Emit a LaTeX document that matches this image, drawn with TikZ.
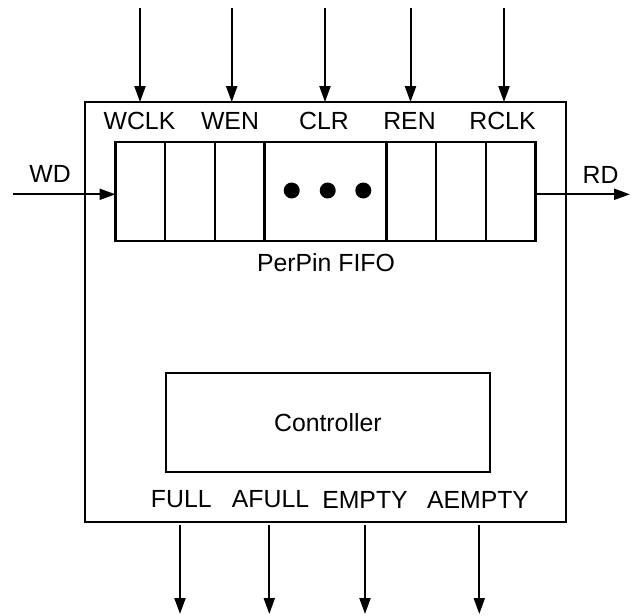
\documentclass[tikz,border=0pt]{standalone}
\usepackage{fontspec}
\setmainfont{Liberation Sans}
\usetikzlibrary{arrows.meta}

\begin{document}
\begin{tikzpicture}[x=0.5pt,y=-0.5pt,
  blk/.style={draw,line width=1.1pt,inner sep=0pt,outer sep=0pt},
  cell/.style={blk,minimum width=24.83pt,minimum height=49.5pt},
  sig/.style={line width=1pt,-{Triangle[length=8pt,width=5.5pt]}},
  lbl/.style={font=\fontsize{12.4}{14}\selectfont,inner sep=0pt},
  dot/.style={circle,fill,inner sep=0pt,minimum size=8pt}]
\useasboundingbox (0,0) rectangle (631,615);
% outer block
\node[blk,minimum width=240.5pt,minimum height=209.8pt] (chip) at (325.1,311.9) {};
% fifo cells
\node[cell] (w1) at (140.33,191.8) {};
\node[cell] (w2) at (190,191.8) {};
\node[cell] (w3) at (239.67,191.8) {};
\node[blk,minimum width=61pt,minimum height=49.5pt] (mid) at (325.5,191.8) {};
\node[cell] (r1) at (411.33,191.8) {};
\node[cell] (r2) at (461,191.8) {};
\node[cell] (r3) at (510.67,191.8) {};
\node[dot] (d1) at (291.7,190.5) {};
\node[dot] (d2) at (327.7,190.5) {};
\node[dot] (d3) at (363.3,190.5) {};
\node[lbl] (fifo) at (326,263) {PerPin FIFO};
% controller
\node[blk,lbl,minimum width=162.15pt,minimum height=49.5pt] (ctrl) at (327.85,422.8) {Controller};
% top inputs
\node[lbl] (wclk) at (139.5,121.2) {WCLK};
\node[lbl] (wen) at (230,121.2) {WEN};
\node[lbl] (clr) at (324,121.2) {CLR};
\node[lbl] (ren) at (409.5,121.2) {REN};
\node[lbl] (rclk) at (502.5,121.2) {RCLK};
\coordinate (wclk in) at (140,8.3);
\coordinate (wen in) at (231.7,8.3);
\coordinate (clr in) at (325,8.3);
\coordinate (ren in) at (410.5,8.3);
\coordinate (rclk in) at (504,8.3);
\draw[sig] (wclk in) -- (wclk in |- chip.north);
\draw[sig] (wen in) -- (wen in |- chip.north);
\draw[sig] (clr in) -- (clr in |- chip.north);
\draw[sig] (ren in) -- (ren in |- chip.north);
\draw[sig] (rclk in) -- (rclk in |- chip.north);
% data in / out
\node[lbl] (wd) at (50,174) {WD};
\node[lbl] (rd) at (600.5,175) {RD};
\coordinate (wd in) at (13.3,194.3);
\coordinate (rd out) at (630,194.3);
\draw[sig] (wd in) -- (wd in -| w1.west);
\draw[sig] (rd out -| r3.east) -- (rd out);
% status flags
\node[lbl] (full) at (181.3,499.5) {FULL};
\node[lbl] (afull) at (270.5,499.5) {AFULL};
\node[lbl] (empty) at (365,499.5) {EMPTY};
\node[lbl] (aempty) at (478,499.5) {AEMPTY};
\coordinate (full out) at (180,614);
\coordinate (afull out) at (269.3,614);
\coordinate (empty out) at (365,614);
\coordinate (aempty out) at (479.3,614);
\draw[sig,shorten <=1.5pt] (full out |- chip.south) -- (full out);
\draw[sig,shorten <=1.5pt] (afull out |- chip.south) -- (afull out);
\draw[sig,shorten <=1.5pt] (empty out |- chip.south) -- (empty out);
\draw[sig,shorten <=1.5pt] (aempty out |- chip.south) -- (aempty out);
\end{tikzpicture}
\end{document}
